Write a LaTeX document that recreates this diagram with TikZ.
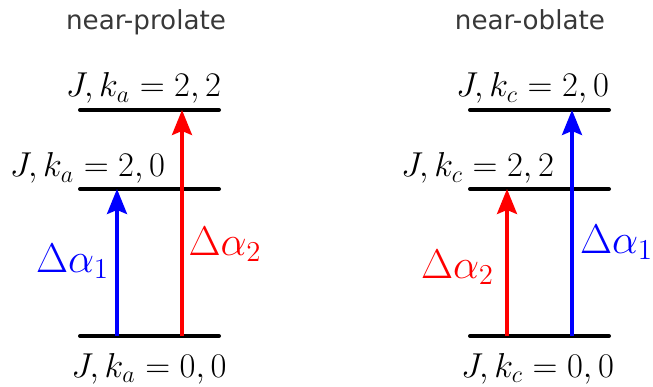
\documentclass[tikz,border=0pt]{standalone}
\usepackage{fontspec}
\newfontfamily\titlefont{DejaVu Sans}
\usepackage{xcolor}
\usetikzlibrary{arrows.meta}

\tikzset{
  level/.style={line width=2pt, line cap=round},
  trans/.style={-{Stealth[length=12.5pt, width=10pt, inset=2pt]}, line width=1.6pt},
  statelab/.style={anchor=base, inner sep=0pt, font=\fontsize{17.3}{20}\selectfont},
  alphalab/.style={anchor=base, inner sep=0pt, font=\fontsize{20.5}{24}\selectfont},
  titlelab/.style={anchor=base, inner sep=0pt, text=black!78, font=\titlefont\fontsize{13.1}{16}\selectfont}
}

\begin{document}
\begin{tikzpicture}[x=0.5pt, y=0.5pt]
\useasboundingbox (0,0) rectangle (653,386);

% energy levels
\foreach \s/\xs in {p/80, o/470} {
  \foreach \l/\yl in {0/50, 1/197, 2/276}
    \draw[level] (\xs,\yl) coordinate (\s\l w) -- ++(139,0) coordinate (\s\l e);
}

% titles
\node[titlelab] (tp) at (146,356) {near-prolate};
\node[titlelab] (to) at (530,356) {near-oblate};

% state labels
\node[statelab] (sp2) at (143.5,289) {$J,k_a=2,2$};
\node[statelab] (sp1) at (87.5,209) {$J,k_a=2,0$};
\node[statelab] (sp0) at (149,9) {$J,k_a=0,0$};
\node[statelab] (so2) at (532.5,289) {$J,k_c=2,0$};
\node[statelab] (so1) at (477.5,209) {$J,k_c=2,2$};
\node[statelab] (so0) at (537.5,9) {$J,k_c=0,0$};

% transitions
\coordinate (pa0) at (117,50);
\coordinate (pa1) at (117,197);
\coordinate (pb0) at (182,50);
\coordinate (pb2) at (182,276);
\coordinate (oa0) at (572,50);
\coordinate (oa2) at (572,276);
\coordinate (ob0) at (507,50);
\coordinate (ob1) at (507,197);

\draw[trans, blue] (pa0) -- (pa1);
\draw[trans, red] (pb0) -- (pb2);
\draw[trans, red] (ob0) -- (ob1);
\draw[trans, blue] (oa0) -- (oa2);

\node[alphalab, text=blue] (ap1) at (72.5,114) {$\Delta\alpha_1$};
\node[alphalab, text=red] (ap2) at (225,131) {$\Delta\alpha_2$};
\node[alphalab, text=red] (ao2) at (457.5,108) {$\Delta\alpha_2$};
\node[alphalab, text=blue] (ao1) at (616.5,133) {$\Delta\alpha_1$};
\end{tikzpicture}
\end{document}
